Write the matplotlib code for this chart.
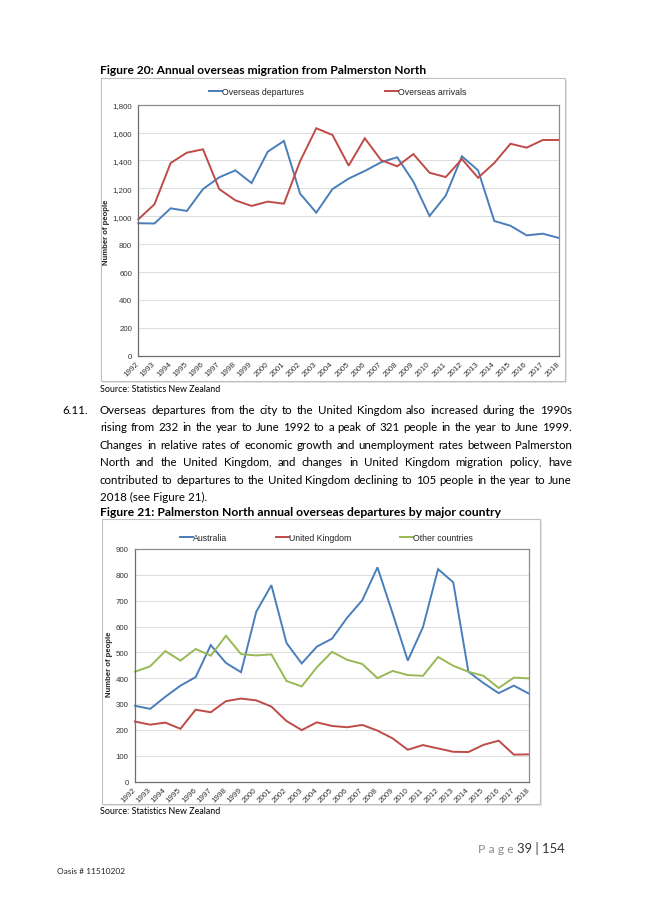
import matplotlib.pyplot as plt
from matplotlib.lines import Line2D
from matplotlib.patches import Rectangle

plt.rcParams['font.family'] = ['Liberation Sans', 'DejaVu Sans']

years = list(range(1992, 2019))
year_labels = [str(y) for y in years]

# Figure 20 values
departures = [950, 948, 1057, 1038, 1195, 1279, 1329, 1238, 1463, 1540, 1162, 1026, 1195,
              1270, 1325, 1387, 1423, 1248, 1002, 1148, 1430, 1329, 966, 932, 863, 875, 844]
arrivals = [978, 1086, 1382, 1456, 1480, 1195, 1114, 1074, 1105, 1090, 1395, 1631, 1583,
            1363, 1559, 1403, 1358, 1446, 1312, 1281, 1410, 1276, 1382, 1520, 1492, 1547, 1547]

# Figure 21 values
australia = [293, 281, 328, 371, 404, 528, 459, 423, 657, 760, 536, 457, 522,
             553, 634, 702, 829, 651, 468, 597, 822, 771, 425, 381, 342, 371, 340]
united_kingdom = [232, 220, 228, 204, 278, 268, 311, 321, 314, 290, 234, 199, 229,
                  215, 210, 219, 197, 167, 123, 141, 128, 115, 114, 142, 158, 104, 105]
other_countries = [425, 446, 505, 468, 513, 487, 564, 493, 488, 492, 389, 368, 442,
                   502, 471, 455, 400, 428, 412, 409, 482, 448, 425, 409, 362, 402, 399]

paragraph = [
    "Overseas departures from the city to the United Kingdom also increased during the 1990s",
    "rising from 232 in the year to June 1992 to a peak of 321 people in the year to June 1999.",
    "Changes in relative rates of economic growth and unemployment rates between Palmerston",
    "North and the United Kingdom, and changes in United Kingdom migration policy, have",
    "contributed to departures to the United Kingdom declining to 105 people in the year to June",
    "2018 (see Figure 21).",
]

BLUE = '#4a7ebb'
RED = '#be4b48'
GREEN = '#98b954'
BODY = 'Lato'

W, H = 645, 912
fig = plt.figure(figsize=(W / 100, H / 100), dpi=100)
renderer = fig.canvas.get_renderer()


def fx(x):
    return x / W


def fy(y):
    return 1 - y / H


def measure(s, size, **kw):
    t = fig.text(0, 0, s, fontsize=size, **kw)
    w = t.get_window_extent(renderer).width
    t.remove()
    return w


def fit_size(s, target, **kw):
    return 10 * target / measure(s, 10, **kw)


def chart(box, ax_rect, ymax, ystep, series, names, legend_x, legend_y, ylabel_xy):
    x0, y0, x1, y1 = box
    fig.add_artist(Rectangle((fx(x0 + 2), fy(y1 + 2)), (x1 - x0) / W, (y1 - y0) / H,
                             transform=fig.transFigure, facecolor='#e6e6e6',
                             edgecolor='none', zorder=-3))
    fig.add_artist(Rectangle((fx(x0), fy(y1)), (x1 - x0) / W, (y1 - y0) / H,
                             transform=fig.transFigure, facecolor='white',
                             edgecolor='#bfbfbf', lw=0.8, zorder=-2))
    l, t, r, b = ax_rect
    ax = fig.add_axes([fx(l), fy(b), (r - l) / W, (b - t) / H])
    ax.set_zorder(2)
    xs = list(range(len(years)))
    for vals, color in series:
        ax.plot(xs, vals, color=color, lw=1.4, solid_joinstyle='miter', clip_on=False)
    ax.set_xlim(0, len(years) - 1)
    ax.set_ylim(0, ymax)
    ticks = list(range(0, ymax + 1, ystep))
    ax.set_yticks(ticks)
    ax.set_yticklabels([f'{v:,}' for v in ticks])
    ax.set_xticks(xs)
    ax.set_xticklabels(year_labels, rotation=45, ha='right', va='center',
                       rotation_mode='anchor')
    ax.tick_params(axis='y', length=0, pad=4.5, labelsize=5.7, labelcolor='#333333')
    ax.tick_params(axis='x', length=0, pad=5, labelsize=5.8, labelcolor='#333333')
    ax.grid(axis='y', color='#dcdcdc', lw=0.7)
    ax.set_axisbelow(True)
    for sp in ax.spines.values():
        sp.set_color('#8c8c8c')
        sp.set_linewidth(0.9)
    ax.spines['left'].set_color('#6e6e6e')
    ax.spines['bottom'].set_color('#6e6e6e')
    for (vals, color), name, lx in zip(series, names, legend_x):
        fig.add_artist(Line2D([fx(lx), fx(lx + 13)], [fy(legend_y), fy(legend_y)],
                              transform=fig.transFigure, color=color, lw=1.4))
        fig.text(fx(lx + 13), fy(legend_y), name, fontsize=6.3, va='center',
                 color='#262626')
    fig.text(fx(ylabel_xy[0]), fy(ylabel_xy[1]), 'Number of people', rotation=90,
             fontsize=5.6, fontweight='bold', ha='center', va='center', color='#262626')
    return ax


# page text
t20 = 'Figure 20: Annual overseas migration from Palmerston North'
fig.text(fx(100), fy(73.5), t20, fontsize=fit_size(t20, 328, family=BODY, fontweight='bold'),
         family=BODY, fontweight='bold')

chart((101, 79, 565, 382), (138.3, 105.7, 559, 356.7), 1800, 200,
      [(departures, BLUE), (arrivals, RED)],
      ['Overseas departures', 'Overseas arrivals'], [209, 385], 92.3, (106.5, 232))

src = 'Source: Statistics New Zealand'
src_size = fit_size(src, 121, family=BODY)
fig.text(fx(100), fy(392.3), src, fontsize=src_size, family=BODY)

# justified paragraph, last line left aligned
body_size = fit_size(paragraph[4], 470, family=BODY)
body_size = min(body_size, 8.6)
fig.text(fx(62), fy(414), '6.11.', fontsize=body_size, family=BODY)
for i, line in enumerate(paragraph):
    by = 414 + i * 17.5
    if i == len(paragraph) - 1:
        fig.text(fx(100), fy(by), line, fontsize=body_size, family=BODY, va='baseline')
        continue
    words = line.split()
    widths = [measure(w, body_size, family=BODY) for w in words]
    gap = (572 - 100 - sum(widths)) / (len(words) - 1)
    x = 100
    for w, wd in zip(words, widths):
        fig.text(fx(x), fy(by), w, fontsize=body_size, family=BODY, va='baseline')
        x += wd + gap

t21 = 'Figure 21: Palmerston North annual overseas departures by major country'
fig.text(fx(100), fy(515.7), t21, fontsize=fit_size(t21, 400, family=BODY, fontweight='bold'),
         family=BODY, fontweight='bold')

chart((102, 520, 540, 805), (135, 550, 529, 782.5), 900, 100,
      [(australia, BLUE), (united_kingdom, RED), (other_countries, GREEN)],
      ['Australia', 'United Kingdom', 'Other countries'], [180, 276, 400], 538.3, (109, 664))

fig.text(fx(100), fy(814.3), src, fontsize=src_size, family=BODY)

# footer
fig.text(fx(478), fy(853), 'P a g e', fontsize=8.8, family=BODY, color='#8c8c8c')
fig.text(fx(517), fy(853), '39 | 154', fontsize=9.4, family=BODY, color='#333333')
fig.text(fx(57), fy(874), 'Oasis # 11510202', fontsize=6.0, family=BODY, color='#222222')

fig.savefig('out.png', dpi=100)
